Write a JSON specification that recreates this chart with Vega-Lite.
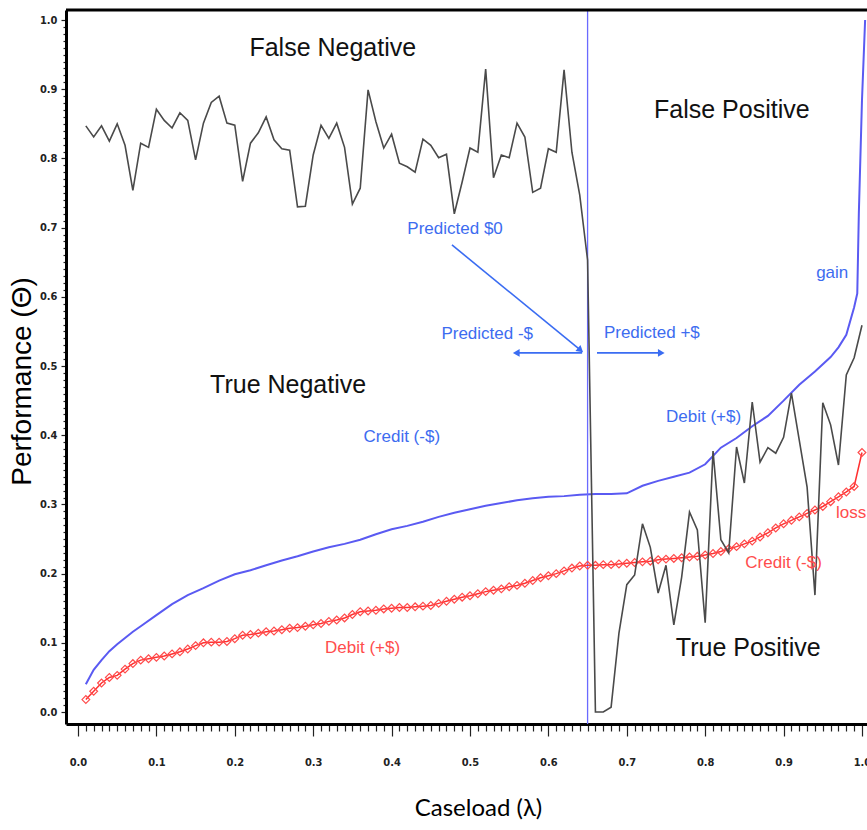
{
  "$schema": "https://vega.github.io/schema/vega-lite/v6.json",
  "autosize": "none",
  "padding": {"left": 66, "top": 10, "right": 0, "bottom": 106},
  "width": 801,
  "height": 714,
  "background": "white",
  "config": {"view": {"stroke": null}},
  "datasets": {
    "black": [
      {"x":0.01,"y":0.847},{"x":0.02,"y":0.831},{"x":0.03,"y":0.847},{"x":0.04,"y":0.825},{"x":0.05,"y":0.850},
      {"x":0.06,"y":0.819},{"x":0.07,"y":0.754},{"x":0.08,"y":0.822},{"x":0.09,"y":0.816},{"x":0.10,"y":0.871},
      {"x":0.11,"y":0.855},{"x":0.12,"y":0.844},{"x":0.13,"y":0.866},{"x":0.14,"y":0.855},{"x":0.15,"y":0.798},
      {"x":0.16,"y":0.851},{"x":0.17,"y":0.881},{"x":0.18,"y":0.890},{"x":0.19,"y":0.851},{"x":0.20,"y":0.848},
      {"x":0.21,"y":0.767},{"x":0.22,"y":0.822},{"x":0.23,"y":0.837},{"x":0.24,"y":0.860},{"x":0.25,"y":0.827},
      {"x":0.26,"y":0.814},{"x":0.27,"y":0.812},{"x":0.28,"y":0.730},{"x":0.29,"y":0.731},{"x":0.30,"y":0.805},
      {"x":0.31,"y":0.848},{"x":0.32,"y":0.829},{"x":0.33,"y":0.851},{"x":0.34,"y":0.816},{"x":0.35,"y":0.734},
      {"x":0.36,"y":0.757},{"x":0.37,"y":0.899},{"x":0.38,"y":0.853},{"x":0.39,"y":0.815},{"x":0.40,"y":0.835},
      {"x":0.41,"y":0.793},{"x":0.42,"y":0.788},{"x":0.43,"y":0.780},{"x":0.44,"y":0.828},{"x":0.45,"y":0.819},
      {"x":0.46,"y":0.801},{"x":0.47,"y":0.806},{"x":0.48,"y":0.720},{"x":0.49,"y":0.766},{"x":0.50,"y":0.815},
      {"x":0.51,"y":0.809},{"x":0.52,"y":0.929},{"x":0.53,"y":0.772},{"x":0.54,"y":0.805},{"x":0.55,"y":0.801},
      {"x":0.56,"y":0.851},{"x":0.57,"y":0.831},{"x":0.58,"y":0.751},{"x":0.59,"y":0.757},{"x":0.60,"y":0.814},
      {"x":0.61,"y":0.809},{"x":0.62,"y":0.928},{"x":0.63,"y":0.809},{"x":0.64,"y":0.747},{"x":0.65,"y":0.653},
      {"x":0.66,"y":0.0},{"x":0.67,"y":0.0},{"x":0.68,"y":0.007},{"x":0.69,"y":0.114},{"x":0.70,"y":0.184},
      {"x":0.71,"y":0.198},{"x":0.72,"y":0.272},{"x":0.73,"y":0.238},{"x":0.74,"y":0.172},{"x":0.75,"y":0.212},
      {"x":0.76,"y":0.126},{"x":0.77,"y":0.195},{"x":0.78,"y":0.289},{"x":0.79,"y":0.263},{"x":0.80,"y":0.129},
      {"x":0.81,"y":0.377},{"x":0.82,"y":0.249},{"x":0.83,"y":0.230},{"x":0.84,"y":0.383},{"x":0.85,"y":0.331},
      {"x":0.86,"y":0.448},{"x":0.87,"y":0.361},{"x":0.88,"y":0.382},{"x":0.89,"y":0.374},{"x":0.90,"y":0.397},
      {"x":0.91,"y":0.461},{"x":0.92,"y":0.393},{"x":0.93,"y":0.325},{"x":0.94,"y":0.169},{"x":0.95,"y":0.447},
      {"x":0.96,"y":0.415},{"x":0.97,"y":0.357},{"x":0.98,"y":0.487},{"x":0.99,"y":0.512},{"x":1.00,"y":0.559}
    ],
    "blue": [
      {"x":0.01,"y":0.040},{"x":0.02,"y":0.061},{"x":0.03,"y":0.075},{"x":0.04,"y":0.088},{"x":0.05,"y":0.098},
      {"x":0.06,"y":0.107},{"x":0.07,"y":0.116},{"x":0.08,"y":0.124},{"x":0.10,"y":0.140},{"x":0.12,"y":0.156},
      {"x":0.14,"y":0.169},{"x":0.16,"y":0.179},{"x":0.18,"y":0.190},{"x":0.20,"y":0.199},{"x":0.22,"y":0.205},
      {"x":0.24,"y":0.212},{"x":0.26,"y":0.219},{"x":0.28,"y":0.225},{"x":0.30,"y":0.232},{"x":0.32,"y":0.238},
      {"x":0.34,"y":0.243},{"x":0.36,"y":0.249},{"x":0.38,"y":0.257},{"x":0.40,"y":0.264},{"x":0.42,"y":0.269},
      {"x":0.44,"y":0.275},{"x":0.46,"y":0.282},{"x":0.48,"y":0.288},{"x":0.50,"y":0.293},{"x":0.52,"y":0.298},
      {"x":0.54,"y":0.302},{"x":0.56,"y":0.306},{"x":0.58,"y":0.309},{"x":0.60,"y":0.311},{"x":0.62,"y":0.312},
      {"x":0.64,"y":0.314},{"x":0.66,"y":0.315},{"x":0.68,"y":0.315},{"x":0.70,"y":0.316},{"x":0.72,"y":0.327},
      {"x":0.74,"y":0.334},{"x":0.76,"y":0.340},{"x":0.78,"y":0.346},{"x":0.80,"y":0.358},{"x":0.82,"y":0.382},
      {"x":0.84,"y":0.396},{"x":0.86,"y":0.413},{"x":0.88,"y":0.428},{"x":0.90,"y":0.450},{"x":0.92,"y":0.473},
      {"x":0.94,"y":0.492},{"x":0.96,"y":0.513},{"x":0.97,"y":0.527},{"x":0.98,"y":0.545},{"x":0.99,"y":0.585},
      {"x":0.994,"y":0.605},{"x":0.996,"y":0.721},{"x":1.0,"y":0.884},{"x":1.004,"y":1.0}
    ],
    "red": [
      {"x":0.01,"y":0.018},{"x":0.02,"y":0.030},{"x":0.03,"y":0.042},{"x":0.04,"y":0.050},{"x":0.05,"y":0.053},
      {"x":0.06,"y":0.062},{"x":0.07,"y":0.070},{"x":0.08,"y":0.075},{"x":0.09,"y":0.077},{"x":0.10,"y":0.079},
      {"x":0.11,"y":0.081},{"x":0.12,"y":0.084},{"x":0.13,"y":0.087},{"x":0.14,"y":0.091},{"x":0.15,"y":0.096},
      {"x":0.16,"y":0.100},{"x":0.17,"y":0.101},{"x":0.18,"y":0.101},{"x":0.19,"y":0.102},{"x":0.20,"y":0.106},
      {"x":0.21,"y":0.111},{"x":0.22,"y":0.112},{"x":0.23,"y":0.114},{"x":0.24,"y":0.116},{"x":0.25,"y":0.117},
      {"x":0.26,"y":0.119},{"x":0.27,"y":0.121},{"x":0.28,"y":0.122},{"x":0.29,"y":0.124},{"x":0.30,"y":0.126},
      {"x":0.31,"y":0.128},{"x":0.32,"y":0.131},{"x":0.33,"y":0.133},{"x":0.34,"y":0.136},{"x":0.35,"y":0.141},
      {"x":0.36,"y":0.145},{"x":0.37,"y":0.146},{"x":0.38,"y":0.147},{"x":0.39,"y":0.149},{"x":0.40,"y":0.150},
      {"x":0.41,"y":0.151},{"x":0.42,"y":0.151},{"x":0.43,"y":0.152},{"x":0.44,"y":0.153},{"x":0.45,"y":0.154},
      {"x":0.46,"y":0.157},{"x":0.47,"y":0.160},{"x":0.48,"y":0.163},{"x":0.49,"y":0.166},{"x":0.50,"y":0.168},
      {"x":0.51,"y":0.171},{"x":0.52,"y":0.174},{"x":0.53,"y":0.176},{"x":0.54,"y":0.178},{"x":0.55,"y":0.181},
      {"x":0.56,"y":0.183},{"x":0.57,"y":0.186},{"x":0.58,"y":0.190},{"x":0.59,"y":0.194},{"x":0.60,"y":0.197},
      {"x":0.61,"y":0.200},{"x":0.62,"y":0.204},{"x":0.63,"y":0.208},{"x":0.64,"y":0.211},{"x":0.65,"y":0.212},
      {"x":0.66,"y":0.212},{"x":0.67,"y":0.213},{"x":0.68,"y":0.213},{"x":0.69,"y":0.214},{"x":0.70,"y":0.215},
      {"x":0.71,"y":0.216},{"x":0.72,"y":0.217},{"x":0.73,"y":0.218},{"x":0.74,"y":0.220},{"x":0.75,"y":0.221},
      {"x":0.76,"y":0.222},{"x":0.77,"y":0.223},{"x":0.78,"y":0.224},{"x":0.79,"y":0.225},{"x":0.80,"y":0.227},
      {"x":0.81,"y":0.229},{"x":0.82,"y":0.232},{"x":0.83,"y":0.236},{"x":0.84,"y":0.239},{"x":0.85,"y":0.243},
      {"x":0.86,"y":0.247},{"x":0.87,"y":0.253},{"x":0.88,"y":0.259},{"x":0.89,"y":0.266},{"x":0.90,"y":0.272},
      {"x":0.91,"y":0.277},{"x":0.92,"y":0.282},{"x":0.93,"y":0.287},{"x":0.94,"y":0.292},{"x":0.95,"y":0.297},
      {"x":0.96,"y":0.304},{"x":0.97,"y":0.311},{"x":0.98,"y":0.318},{"x":0.99,"y":0.326},{"x":1.00,"y":0.375}
    ],
    "cutoff": [{"x":0.65,"y":-0.0173,"y2":1.0145}],
    "frame": [{"x":-0.0153,"x2":1.0064,"y":1.0145}],
    "labels": [
      {"label":"False Negative","x":0.325,"y":0.96,"group":"region"},
      {"label":"False Positive","x":0.834,"y":0.87,"group":"region"},
      {"label":"True Negative","x":0.268,"y":0.473,"group":"region"},
      {"label":"True Positive","x":0.855,"y":0.0925,"group":"region"},
      {"label":"Predicted $0","x":0.481,"y":0.698,"group":"blue"},
      {"label":"Predicted -$","x":0.522,"y":0.547,"group":"blue"},
      {"label":"Predicted +$","x":0.732,"y":0.548,"group":"blue"},
      {"label":"gain","x":0.962,"y":0.634,"group":"blue"},
      {"label":"Debit (+$)","x":0.798,"y":0.426,"group":"blue"},
      {"label":"Credit (-$)","x":0.413,"y":0.397,"group":"blue"},
      {"label":"Credit (-$)","x":0.90,"y":0.215,"group":"red"},
      {"label":"loss","x":0.986,"y":0.288,"group":"red"},
      {"label":"Debit (+$)","x":0.363,"y":0.0925,"group":"red"}
    ],
    "arrows": [
      {"x":0.477,"y":0.675,"x2":0.641,"y2":0.523},
      {"x":0.643,"y":0.519,"x2":0.562,"y2":0.519},
      {"x":0.662,"y":0.519,"x2":0.741,"y2":0.519}
    ],
    "heads": [
      {"x":0.641,"y":0.523,"dir":"diag"},
      {"x":0.559,"y":0.519,"dir":"left"},
      {"x":0.744,"y":0.519,"dir":"right"}
    ]
  },
  "encoding": {
    "x": {
      "field": "x", "type": "quantitative",
      "scale": {"domain": [-0.0153, 1.0064], "nice": false, "zero": false},
      "axis": {
        "values": [0,0.01,0.02,0.03,0.04,0.05,0.06,0.07,0.08,0.09,0.1,0.11,0.12,0.13,0.14,0.15,0.16,0.17,0.18,0.19,0.2,0.21,0.22,0.23,0.24,0.25,0.26,0.27,0.28,0.29,0.3,0.31,0.32,0.33,0.34,0.35,0.36,0.37,0.38,0.39,0.4,0.41,0.42,0.43,0.44,0.45,0.46,0.47,0.48,0.49,0.5,0.51,0.52,0.53,0.54,0.55,0.56,0.57,0.58,0.59,0.6,0.61,0.62,0.63,0.64,0.65,0.66,0.67,0.68,0.69,0.7,0.71,0.72,0.73,0.74,0.75,0.76,0.77,0.78,0.79,0.8,0.81,0.82,0.83,0.84,0.85,0.86,0.87,0.88,0.89,0.9,0.91,0.92,0.93,0.94,0.95,0.96,0.97,0.98,0.99,1],
        "labelExpr": "abs(datum.value*10 - round(datum.value*10)) < 0.001 ? format(datum.value, '.1f') : ''",
        "tickSize": {"condition": {"test": "abs(datum.value*10 - round(datum.value*10)) < 0.001", "value": 12}, "value": 7},
        "tickColor": "#222",
        "tickWidth": 1.2,
        "domainColor": "black",
        "domainWidth": 3,
        "grid": false,
        "labelOverlap": false,
        "labelBound": false,
        "labelFlush": false,
        "labelFont": "DejaVu Sans Condensed",
        "labelFontWeight": "bold",
        "labelFontSize": 11,
        "labelColor": "#222",
        "labelPadding": 26,
        "labelBaseline": "middle",
        "title": "Caseload (λ)",
        "titleFont": "Lato",
        "titleFontSize": 24,
        "titleFontWeight": "normal",
        "titleColor": "black",
        "titleX": 412,
        "titleY": 84,
        "titleBaseline": "middle",
        "titleAlign": "center"
      }
    },
    "y": {
      "field": "y", "type": "quantitative",
      "scale": {"domain": [-0.0173, 1.0145], "nice": false, "zero": false},
      "axis": {
        "values": [0,0.01,0.02,0.03,0.04,0.05,0.06,0.07,0.08,0.09,0.1,0.11,0.12,0.13,0.14,0.15,0.16,0.17,0.18,0.19,0.2,0.21,0.22,0.23,0.24,0.25,0.26,0.27,0.28,0.29,0.3,0.31,0.32,0.33,0.34,0.35,0.36,0.37,0.38,0.39,0.4,0.41,0.42,0.43,0.44,0.45,0.46,0.47,0.48,0.49,0.5,0.51,0.52,0.53,0.54,0.55,0.56,0.57,0.58,0.59,0.6,0.61,0.62,0.63,0.64,0.65,0.66,0.67,0.68,0.69,0.7,0.71,0.72,0.73,0.74,0.75,0.76,0.77,0.78,0.79,0.8,0.81,0.82,0.83,0.84,0.85,0.86,0.87,0.88,0.89,0.9,0.91,0.92,0.93,0.94,0.95,0.96,0.97,0.98,0.99,1],
        "labelExpr": "abs(datum.value*10 - round(datum.value*10)) < 0.001 ? format(datum.value, '.1f') : ''",
        "tickSize": {"condition": {"test": "abs(datum.value*10 - round(datum.value*10)) < 0.001", "value": 5}, "value": 3},
        "tickColor": "#222",
        "tickWidth": 1.2,
        "domainColor": "black",
        "domainWidth": 3,
        "grid": false,
        "labelOverlap": false,
        "labelBound": false,
        "labelFlush": false,
        "labelFont": "DejaVu Sans Condensed",
        "labelFontWeight": "bold",
        "labelFontSize": 11,
        "labelColor": "#222",
        "labelPadding": 4,
        "title": "Performance (Θ)",
        "titleFont": "Liberation Sans",
        "titleFontSize": 28,
        "titleFontWeight": "normal",
        "titleColor": "black",
        "titleX": -44,
        "titleY": 371,
        "titleAngle": -90,
        "titleBaseline": "middle",
        "titleAlign": "center"
      }
    }
  },
  "layer": [
    {
      "data": {"name": "blue"},
      "mark": {"type": "line", "color": "#5a5af2", "strokeWidth": 2}
    },
    {
      "data": {"name": "cutoff"},
      "mark": {"type": "rule", "color": "#6a6aff", "strokeWidth": 1.3},
      "encoding": {"y2": {"field": "y2"}}
    },
    {
      "data": {"name": "frame"},
      "mark": {"type": "rule", "color": "black", "strokeWidth": 3},
      "encoding": {"x2": {"field": "x2"}}
    },
    {
      "data": {"name": "red"},
      "mark": {"type": "line", "color": "#ff3030", "strokeWidth": 1.5,
               "point": {"shape": "diamond", "filled": false, "size": 60, "color": "#ff4a4a", "strokeWidth": 1.2}}
    },
    {
      "data": {"name": "black"},
      "mark": {"type": "line", "color": "#4a4a4a", "strokeWidth": 1.6}
    },
    {
      "data": {"name": "arrows"},
      "mark": {"type": "rule", "color": "#3a6cf2", "strokeWidth": 1.6},
      "encoding": {"x2": {"field": "x2"}, "y2": {"field": "y2"}}
    },
    {
      "data": {"name": "heads"},
      "transform": [{"filter": "datum.dir == 'diag'"}],
      "mark": {"type": "point", "shape": "triangle-right", "angle": 40, "filled": true, "size": 60, "color": "#3a6cf2", "opacity": 1}
    },
    {
      "data": {"name": "heads"},
      "transform": [{"filter": "datum.dir == 'left'"}],
      "mark": {"type": "point", "shape": "triangle-left", "filled": true, "size": 60, "color": "#3a6cf2", "opacity": 1}
    },
    {
      "data": {"name": "heads"},
      "transform": [{"filter": "datum.dir == 'right'"}],
      "mark": {"type": "point", "shape": "triangle-right", "filled": true, "size": 60, "color": "#3a6cf2", "opacity": 1}
    },
    {
      "data": {"name": "labels"},
      "transform": [{"filter": "datum.group == 'region'"}],
      "mark": {"type": "text", "font": "Liberation Sans", "fontSize": 25, "color": "#111", "align": "center", "baseline": "middle"},
      "encoding": {"text": {"field": "label"}}
    },
    {
      "data": {"name": "labels"},
      "transform": [{"filter": "datum.group == 'blue'"}],
      "mark": {"type": "text", "font": "Liberation Sans", "fontSize": 17, "color": "#3d6cf0", "align": "center", "baseline": "middle"},
      "encoding": {"text": {"field": "label"}}
    },
    {
      "data": {"name": "labels"},
      "transform": [{"filter": "datum.group == 'red'"}],
      "mark": {"type": "text", "font": "Liberation Sans", "fontSize": 17, "color": "#ff4d4d", "align": "center", "baseline": "middle"},
      "encoding": {"text": {"field": "label"}}
    }
  ]
}
